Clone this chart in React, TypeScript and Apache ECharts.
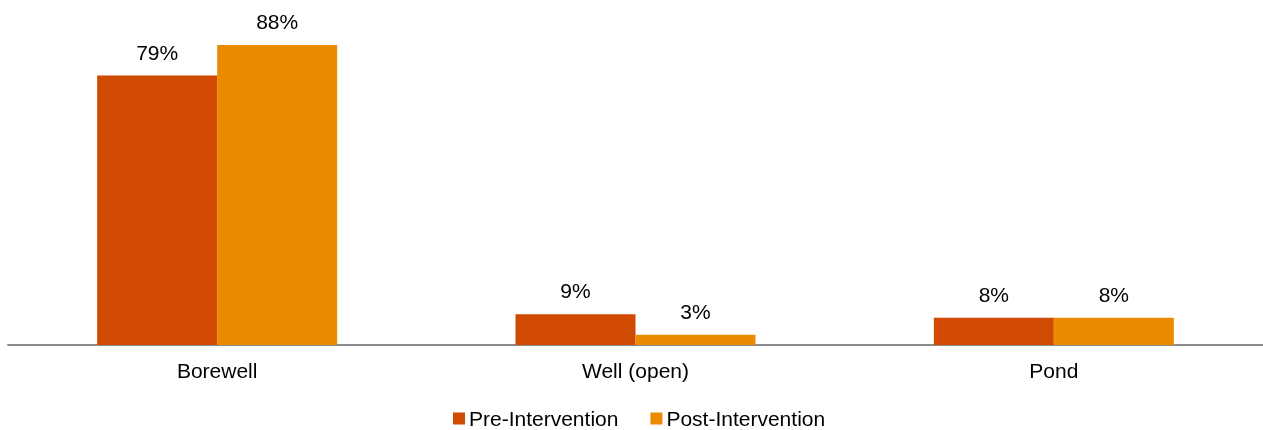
import React, { useEffect, useRef } from "react";
import * as echarts from "echarts";

const categories = ["Borewell", "Well (open)", "Pond"];
const preIntervention = [79, 9, 8];
const postIntervention = [88, 3, 8];
const seriesNames = ["Pre-Intervention", "Post-Intervention"];

export default function App() {
  const ref = useRef<HTMLDivElement>(null);
  useEffect(() => {
    if (!ref.current) return;
    const chart = echarts.init(ref.current, null, { renderer: "svg" });
    const font = "Liberation Sans, Arial, sans-serif";
    const label = {
      show: true,
      position: "top",
      distance: 13,
      formatter: "{c}%",
      color: "#000",
      fontSize: 21,
      fontFamily: font,
    };
    chart.setOption({
      animation: false,
      textStyle: { fontFamily: font },
      grid: { left: 8, right: 0, top: 4, bottom: 85, containLabel: false },
      legend: {
        top: 408,
        left: 453,
        padding: 0,
        itemWidth: 12,
        itemHeight: 12,
        itemGap: 32,
        icon: "rect",
        textStyle: { fontSize: 21, color: "#000", fontFamily: font, padding: [0, 0, 0, -1] },
        data: seriesNames,
      },
      xAxis: {
        type: "category",
        data: categories,
        axisLine: { lineStyle: { color: "#8c8c8c", width: 2 } },
        axisTick: { show: false },
        axisLabel: { fontSize: 21, color: "#000", margin: 15, fontFamily: font },
      },
      yAxis: {
        type: "value",
        min: 0,
        max: 100,
        show: false,
        splitLine: { show: false },
      },
      series: [
        {
          name: seriesNames[0],
          type: "bar",
          data: preIntervention,
          barWidth: 120,
          barGap: "0%",
          itemStyle: { color: "#D04A02" },
          label,
        },
        {
          name: seriesNames[1],
          type: "bar",
          data: postIntervention,
          barWidth: 120,
          barGap: "0%",
          itemStyle: { color: "#EB8C00" },
          label,
        },
      ],
    });
    return () => chart.dispose();
  }, []);
  return (
    <div
      ref={ref}
      style={{ position: "fixed", left: 0, top: 0, width: 1263, height: 430 }}
    />
  );
}
